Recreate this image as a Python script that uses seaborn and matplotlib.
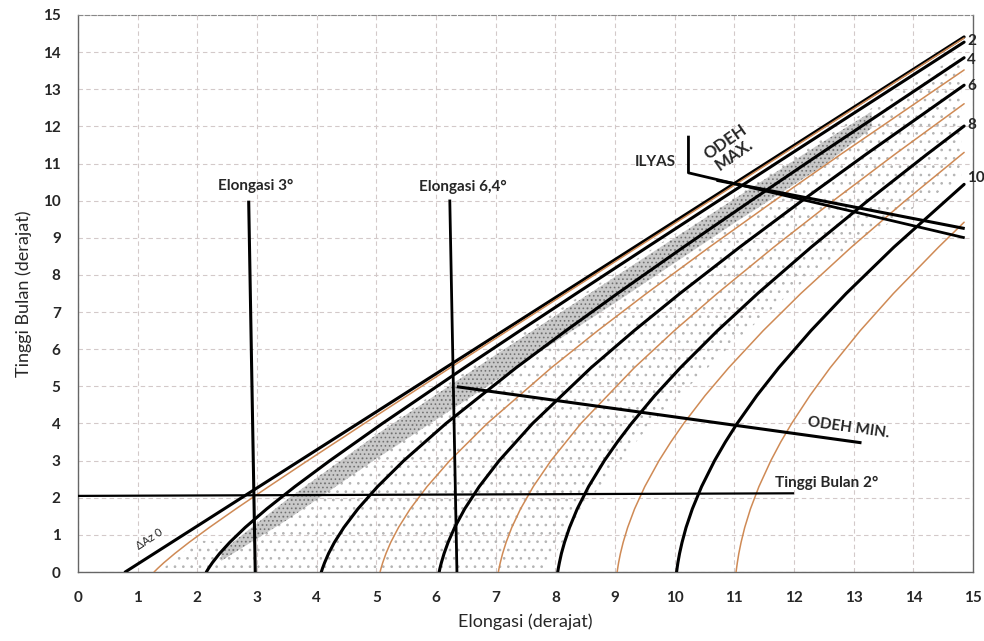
import pandas as pd
import matplotlib.pyplot as plt
import seaborn as sns

# kurva beda azimut (hitam = genap, oranye = ganjil)
daz0_x = [0.79, 14.85]
daz0_y = [0.0, 14.41]
daz1_x = [1.274, 1.337, 1.438, 1.623, 1.862, 2.201, 2.645, 3.195, 3.849, 4.798, 6.237, 7.201, 8.169,
          9.380, 10.593, 11.808, 14.85]
daz1_y = [0.0, 0.1, 0.25, 0.5, 0.8, 1.2, 1.7, 2.3, 3.0, 4.0, 5.5, 6.5, 7.5, 8.75, 10.0, 11.25, 14.38]
daz2_x = [2.150, 2.188, 2.251, 2.373, 2.543, 2.801, 3.162, 3.634, 4.221, 5.101, 6.473, 7.407, 8.350,
          9.539, 10.734, 11.934, 14.85]
daz2_y = [0.0, 0.1, 0.25, 0.5, 0.8, 1.2, 1.7, 2.3, 3.0, 4.0, 5.5, 6.5, 7.5, 8.75, 10.0, 11.25, 14.27]
daz4_x = [4.077, 4.097, 4.132, 4.199, 4.297, 4.455, 4.690, 5.020, 5.460, 6.166, 7.341, 8.177, 9.040,
          10.148, 11.279, 12.427, 14.85]
daz4_y = [0.0, 0.1, 0.25, 0.5, 0.8, 1.2, 1.7, 2.3, 3.0, 4.0, 5.5, 6.5, 7.5, 8.75, 10.0, 11.25, 13.85]
daz5_x = [5.062, 5.078, 5.106, 5.161, 5.241, 5.371, 5.567, 5.849, 6.230, 6.857, 7.931, 8.710, 9.525,
          10.582, 11.671, 12.784, 14.85]
daz5_y = [0.0, 0.1, 0.25, 0.5, 0.8, 1.2, 1.7, 2.3, 3.0, 4.0, 5.5, 6.5, 7.5, 8.75, 10.0, 11.25, 13.52]
daz6_x = [6.052, 6.065, 6.089, 6.135, 6.202, 6.312, 6.480, 6.723, 7.058, 7.617, 8.596, 9.320, 10.086,
          11.090, 12.133, 13.207, 14.85]
daz6_y = [0.0, 0.1, 0.25, 0.5, 0.8, 1.2, 1.7, 2.3, 3.0, 4.0, 5.5, 6.5, 7.5, 8.75, 10.0, 11.25, 13.11]
daz7_x = [7.044, 7.056, 7.076, 7.116, 7.174, 7.269, 7.416, 7.629, 7.926, 8.427, 9.322, 9.993, 10.711,
          11.661, 12.658, 13.690, 14.85]
daz7_y = [0.0, 0.1, 0.25, 0.5, 0.8, 1.2, 1.7, 2.3, 3.0, 4.0, 5.5, 6.5, 7.5, 8.75, 10.0, 11.25, 12.61]
daz8_x = [8.039, 8.049, 8.067, 8.101, 8.153, 8.237, 8.366, 8.556, 8.821, 9.038, 9.275, 9.665, 10.094,
          10.717, 11.390, 12.288, 13.237, 14.228, 14.85]
daz8_y = [0.0, 0.1, 0.25, 0.5, 0.8, 1.2, 1.7, 2.3, 3.0, 3.5, 4.0, 4.75, 5.5, 6.5, 7.5, 8.75, 10.0,
          11.25, 12.01]
daz9_x = [9.035, 9.044, 9.059, 9.090, 9.136, 9.211, 9.327, 9.498, 9.737, 9.934, 10.150, 10.508, 10.904,
          11.483, 12.113, 12.961, 13.864, 14.85]
daz9_y = [0.0, 0.1, 0.25, 0.5, 0.8, 1.2, 1.7, 2.3, 3.0, 3.5, 4.0, 4.75, 5.5, 6.5, 7.5, 8.75, 10.0, 11.30]
daz10_x = [10.031, 10.039, 10.053, 10.081, 10.123, 10.190, 10.295, 10.450, 10.668, 10.848, 11.046,
           11.376, 11.743, 12.283, 12.873, 13.674, 14.85]
daz10_y = [0.0, 0.1, 0.25, 0.5, 0.8, 1.2, 1.7, 2.3, 3.0, 3.5, 4.0, 4.75, 5.5, 6.5, 7.5, 8.75, 10.44]
daz11_x = [11.028, 11.036, 11.049, 11.074, 11.112, 11.173, 11.269, 11.411, 11.611, 11.776, 11.959,
           12.265, 12.605, 13.109, 13.665, 14.422, 14.85]
daz11_y = [0.0, 0.1, 0.25, 0.5, 0.8, 1.2, 1.7, 2.3, 3.0, 3.5, 4.0, 4.75, 5.5, 6.5, 7.5, 8.75, 9.42]

black_curves = {"0": (daz0_x, daz0_y), "2": (daz2_x, daz2_y), "4": (daz4_x, daz4_y),
                "6": (daz6_x, daz6_y), "8": (daz8_x, daz8_y), "10": (daz10_x, daz10_y)}
orange_curves = {"1": (daz1_x, daz1_y), "5": (daz5_x, daz5_y), "7": (daz7_x, daz7_y),
                 "9": (daz9_x, daz9_y), "11": (daz11_x, daz11_y)}

# label di ujung kanan
end_labels = ["2", "4", "6", "8", "10"]
end_label_y = [14.3, 13.8, 13.1, 12.05, 10.6]

# sebaran data pengamatan (bintik-bintik)
sparse_up_x = [1.35, 2.0, 2.6, 3.5, 5.0, 7.0, 9.0, 11.0, 13.0, 14.8]
sparse_up_y = [0.0, 0.85, 0.8, 1.95, 3.75, 5.95, 8.05, 10.15, 12.2, 13.95]
sparse_lo_x = [14.8, 12.5, 11.0, 9.6, 8.6, 7.8, 1.35]
sparse_lo_y = [10.6, 8.3, 6.2, 4.0, 2.0, 0.0, 0.0]
dense_x = [2.4, 3.5, 5.0, 7.0, 9.0, 11.0, 12.5, 13.3]
dense_hi = [0.55, 1.95, 3.7, 5.85, 7.95, 10.05, 11.6, 12.4]
dense_lo = [0.3, 1.4, 3.05, 5.15, 7.25, 9.4, 10.95, 11.95]

# garis-garis kriteria
elong3_x, elong3_y = [2.86, 2.97], [10.0, 0.0]
elong64_x, elong64_y = [6.23, 6.35], [10.03, 0.0]
tinggi2_x, tinggi2_y = [0.0, 12.0], [2.05, 2.12]
odehmin_x, odehmin_y = [6.35, 13.13], [4.99, 3.48]
odehmax_x, odehmax_y = [10.7, 14.86], [10.55, 9.25]
ilyas_x, ilyas_y = [10.23, 10.23, 14.86], [11.75, 10.75, 9.0]

ticks = list(range(0, 16))

sns.set_style("white")
plt.rcParams["font.family"] = ["Lato", "DejaVu Sans"]
plt.rcParams["hatch.linewidth"] = 0.7

fig = plt.figure(figsize=(9.84, 6.41), dpi=100)
ax = fig.add_axes([0.0793, 0.1076, 0.9096, 0.869])

# bintik sebaran
ax.fill(sparse_up_x + sparse_lo_x, sparse_up_y + sparse_lo_y, facecolor="none",
        edgecolor="#b4b4b4", hatch="..", linewidth=0, zorder=1)
ax.fill_between(dense_x, dense_lo, dense_hi, facecolor="#b8b8b8", edgecolor="#606060",
                hatch="....", linewidth=0, alpha=0.75, zorder=1)

for name, (xs, ys) in black_curves.items():
    df = pd.DataFrame({"Elongasi": xs, "Tinggi": ys})
    sns.lineplot(data=df, x="Elongasi", y="Tinggi", color="black", linewidth=2.2,
                 sort=False, estimator=None, ax=ax, zorder=3)
for name, (xs, ys) in orange_curves.items():
    df = pd.DataFrame({"Elongasi": xs, "Tinggi": ys})
    sns.lineplot(data=df, x="Elongasi", y="Tinggi", color="#cf8a55", linewidth=1.1,
                 sort=False, estimator=None, ax=ax, zorder=4)

for xs, ys, lw in [(elong3_x, elong3_y, 2.2), (elong64_x, elong64_y, 2.0),
                   (tinggi2_x, tinggi2_y, 1.6), (odehmin_x, odehmin_y, 2.2),
                   (odehmax_x, odehmax_y, 2.2), (ilyas_x, ilyas_y, 2.0)]:
    ax.plot(xs, ys, color="black", linewidth=lw, zorder=5, solid_capstyle="butt")

for lab, yy in zip(end_labels, end_label_y):
    ax.text(14.9, yy, lab, fontsize=11, fontweight="bold", ha="left", va="center", clip_on=False)

ax.text(2.97, 10.4, "Elongasi 3°", fontsize=11, fontweight="bold", ha="center", va="center")
ax.text(6.45, 10.38, "Elongasi 6,4°", fontsize=11, fontweight="bold", ha="center", va="center")
ax.text(9.68, 11.03, "ILYAS", fontsize=11, fontweight="bold", ha="center", va="center")
ax.text(10.92, 11.4, "ODEH\nMAX.", fontsize=12, fontweight="bold", ha="center", va="center",
        rotation=35, linespacing=1.0)
ax.text(12.91, 3.88, "ODEH MIN.", fontsize=11, fontweight="bold", ha="center", va="center", rotation=-8)
ax.text(12.55, 2.4, "Tinggi Bulan 2°", fontsize=11, fontweight="bold", ha="center", va="center")
ax.text(1.2, 0.9, "ΔAz 0", fontsize=8, ha="center", va="center", rotation=33)

ax.set_xlim(0, 15)
ax.set_ylim(0, 15)
ax.set_xticks(ticks)
ax.set_yticks(ticks)
ax.grid(True, color="#d3c9c9", linestyle=(0, (4, 3)), linewidth=0.8)
ax.set_axisbelow(True)
for side in ["left", "bottom", "right"]:
    ax.spines[side].set_color("#666666")
    ax.spines[side].set_linewidth(1.0)
ax.spines["top"].set_color("#888888")
ax.spines["top"].set_linestyle((0, (4, 2)))
ax.tick_params(axis="both", direction="inout", length=5, color="#666666", labelsize=11)
ax.tick_params(axis="x", pad=11)
ax.tick_params(axis="y", pad=10)
for lab in ax.get_xticklabels() + ax.get_yticklabels():
    lab.set_fontweight("bold")
ax.set_xlabel("Elongasi (derajat)", fontsize=13, labelpad=6)
ax.set_ylabel("Tinggi Bulan (derajat)", fontsize=13, labelpad=8)

fig.savefig("out.png", dpi=100)
